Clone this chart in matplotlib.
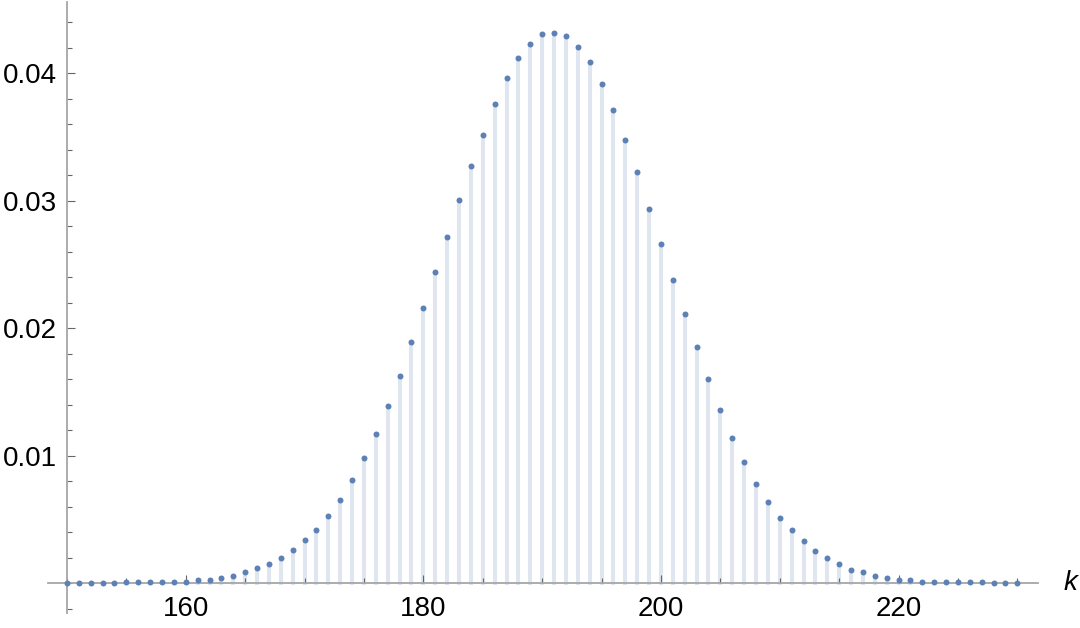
import matplotlib.pyplot as plt
from matplotlib.ticker import MultipleLocator, FixedLocator
import numpy as np

# values, one per k
k = np.arange(150, 231)
p = [
	0.0, 0.0, 0.0, 0.0, 0.0,
	0.00013, 0.00013, 0.00013, 0.00013, 0.00013, 0.00013,
	0.00028, 0.00028, 0.00044, 0.0006, 0.0009, 0.00122, 0.00154,
	0.0020, 0.00263, 0.00342, 0.0042, 0.0053, 0.00655, 0.00812,
	0.00984, 0.01172, 0.01392, 0.01627, 0.0189,
	0.0216, 0.0244, 0.0272, 0.0301, 0.0327, 0.0352, 0.0376, 0.0396, 0.0412, 0.0423,
	0.0431, 0.0432, 0.0429, 0.0421, 0.0409, 0.0392, 0.0371, 0.0348, 0.0323, 0.0294,
	0.0266, 0.0238, 0.0211, 0.0185, 0.0160, 0.0136, 0.0114, 0.0095, 0.0078, 0.0064,
	0.0051, 0.0042, 0.0033, 0.0025, 0.0020, 0.00154, 0.00107, 0.00091, 0.0006, 0.00044,
	0.00028, 0.00028, 0.00013, 0.00013, 0.00013, 0.00013, 0.00013, 0.00013,
	0.0, 0.0, 0.0,
]
x_ticks = [160, 180, 200, 220]
y_ticks = [0.01, 0.02, 0.03, 0.04]
y_tick_labels = ["0.01", "0.02", "0.03", "0.04"]

point_color = "#5e81b5"
stem_color = "#dfe6f0"
axis_color = "#a6a6a6"

if __name__ == "__main__":
	plt.rcParams["font.family"] = ["Liberation Sans", "DejaVu Sans"]

	fig = plt.figure(figsize=(10.8, 6.28), dpi=100)
	ax = fig.add_axes([0.0442, 0.0239, 0.9166, 0.9729])

	stems = ax.vlines(k, 0, p, colors=stem_color, linewidth=2.9, zorder=1)
	stems.set_capstyle("projecting")
	ax.plot(k, p, "o", color=point_color, markersize=4.3, markeredgewidth=0, zorder=3)

	ax.set_xlim(148.38, 231.71)
	ax.set_ylim(-0.00233, 0.0456)

	# Mathematica style axes crossing at (150, 0)
	ax.spines["left"].set_position(("data", 150))
	ax.spines["bottom"].set_position(("data", 0))
	ax.spines["top"].set_visible(False)
	ax.spines["right"].set_visible(False)
	for s in ("left", "bottom"):
		ax.spines[s].set_color(axis_color)
		ax.spines[s].set_linewidth(1.3)

	ax.xaxis.set_major_locator(FixedLocator(x_ticks))
	ax.xaxis.set_minor_locator(MultipleLocator(5))
	ax.yaxis.set_major_locator(FixedLocator(y_ticks))
	ax.set_yticklabels(y_tick_labels)
	ax.yaxis.set_minor_locator(MultipleLocator(0.002))

	ax.tick_params(which="both", direction="in", colors="#666666", labelcolor="black",
		labelsize=20, width=0.8)
	ax.tick_params(which="major", length=6)
	ax.tick_params(which="minor", length=3.5)
	ax.tick_params(axis="x", which="major", pad=9)
	ax.tick_params(axis="y", which="major", pad=7)

	ax.annotate("k", xy=(1, 0), xycoords=("axes fraction", "data"), xytext=(26, 0),
		textcoords="offset pixels", ha="left", va="center", fontsize=20, style="italic",
		annotation_clip=False)

	fig.savefig("out.png", dpi=100)
